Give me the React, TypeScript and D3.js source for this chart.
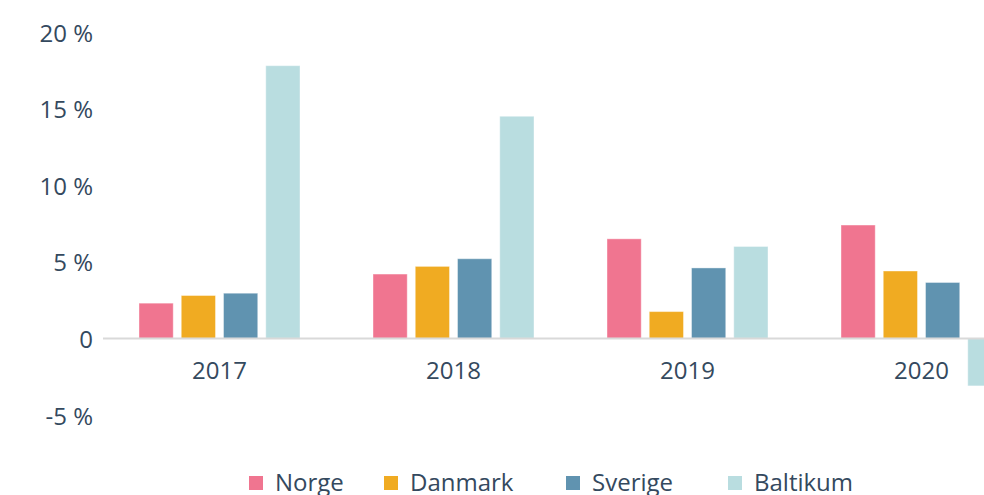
import React from 'react';
import * as d3 from 'd3';

const years = ['2017', '2018', '2019', '2020'];
const series = ['Norge', 'Danmark', 'Sverige', 'Baltikum'];
const colors = ['#F07590', '#F0AB22', '#6093B0', '#B9DDE0'];

const norge = [2.3, 4.2, 6.5, 7.4];
const danmark = [2.8, 4.7, 1.75, 4.4];
const sverige = [2.95, 5.2, 4.6, 3.65];
const baltikum = [17.8, 14.5, 6.0, -3.1];

const yTicks = [-5, 0, 5, 10, 15, 20];
const yTickLabels = ['-5 %', '0', '5 %', '10 %', '15 %', '20 %'];

const values = [norge, danmark, sverige, baltikum];

const width = 984;
const height = 495;
const textColor = '#34495E';
const font = '"Open Sans", sans-serif';

// legend positions (x of square)
const legendX = [249, 384, 566, 728];

export default function App() {
    const x = d3.scaleBand()
        .domain(years)
        .range([102.5, 102.5 + 234 * years.length]);

    const inner = d3.scaleBand()
        .domain(series)
        .range([36.5, 197.5])
        .paddingInner(0.19);

    const y = d3.scaleLinear()
        .domain([-5, 20])
        .range([415, 32]);

    return (
        <div style={{ position: 'absolute', left: 0, top: 0 }}>
            <svg width={width} height={height} style={{ display: 'block' }}>
                <rect width={width} height={height} fill="white" />
                {yTicks.map((t, i) => (
                    <text key={t} x={93} y={y(t)} textAnchor="end" dominantBaseline="central"
                        fontFamily={font} fontSize={24} fill={textColor}>{yTickLabels[i]}</text>
                ))}
                {years.map((yr, yi) => (
                    <g key={yr} transform={`translate(${x(yr)},0)`}>
                        {series.map((s, si) => {
                            const v = values[si][yi];
                            return (
                                <rect key={s}
                                    x={inner(s)}
                                    y={Math.min(y(v), y(0))}
                                    width={inner.bandwidth()}
                                    height={Math.abs(y(v) - y(0))}
                                    fill={colors[si]}
                                    stroke="#fff" strokeOpacity={0.4} strokeWidth={1} />
                            );
                        })}
                        <text x={x.bandwidth() / 2} y={369} textAnchor="middle" dominantBaseline="central"
                            fontFamily={font} fontSize={24} fill={textColor}>{yr}</text>
                    </g>
                ))}
                <line x1={103} x2={width} y1={y(0)} y2={y(0)} stroke="#d9d9d9" strokeWidth={2} />
                {series.map((s, i) => (
                    <g key={s} transform={`translate(${legendX[i]},0)`}>
                        <rect x={0} y={476} width={14} height={14} fill={colors[i]} />
                        <text x={26} y={491} fontFamily={font} fontSize={24} fill={textColor}>{s}</text>
                    </g>
                ))}
            </svg>
        </div>
    );
}
